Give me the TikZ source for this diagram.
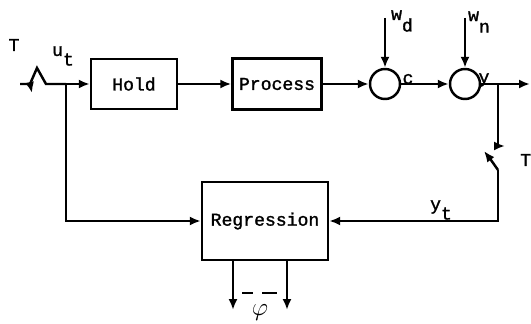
\documentclass[tikz,border=0pt]{standalone}
\usepackage{fontspec}
\setmainfont{Liberation Mono}[FakeBold=1.5,AutoFakeBold=1.5]
\usetikzlibrary{arrows.meta}

\begin{document}
\begin{tikzpicture}[x=0.02cm,y=-0.02cm,line width=1.4pt,
  >={Latex[length=2.2mm,width=1.8mm]},
  blockbox/.style={draw,rectangle,inner sep=0pt,font=\fontsize{10.3}{12}\selectfont\bfseries},
  sumnode/.style={draw,circle,minimum size=0.6cm,inner sep=0pt},
  lbl/.style={inner sep=0pt,font=\fontsize{10.3}{12}\selectfont\bfseries}]

\useasboundingbox (0,0) rectangle (531,324);

% Blocs
\node[blockbox,minimum width=1.72cm,minimum height=1cm] (hold) at (134,84) {Hold};
\node[blockbox,minimum width=1.78cm,minimum height=1.02cm] (process) at (277,84) {Process};
\node[sumnode] (c) at (385,84) {};
\node[sumnode] (y) at (465,84) {};
\node[blockbox,minimum width=2.52cm,minimum height=1.56cm] (regression) at (265,221) {Regression};

% Points
\coordinate (tin) at (20,84);
\coordinate (sw1a) at (30,84);
\coordinate (sw1p) at (37,68);
\coordinate (sw1b) at (46,84);
\coordinate (ut) at (66,84);
\coordinate (yout) at (530,84);
\coordinate (ybr) at (498,84);
\coordinate (sw2a) at (498,146);
\coordinate (sw2b) at (498,170);
\coordinate (sw2p) at (484,151);
\coordinate (wd) at (385,18);
\coordinate (wn) at (465,18);
\coordinate (phia) at (233,310);
\coordinate (phib) at (287,310);

% Echantillonneur d'entree
\draw (tin) -- (sw1a) -- (sw1p) -- (sw1b) -- (ut);
\draw[->] (sw1a) -- ++(2,9);

% Chaine directe
\draw[->] (ut) -- (hold);
\draw[->] (hold) -- (process);
\draw[->] (process) -- (c);
\draw[->] (c) -- (y);
\draw[->] (y) -- (yout);
\draw[->] (wd) -- (c);
\draw[->] (wn) -- (y);

% Echantillonneur de sortie
\draw (ybr) -- (sw2a);
\draw[->] (sw2a) -- ++(7,0);
\draw[->] (sw2b) .. controls (491,160) .. (sw2p);

% Retours vers la regression
\draw[->] (sw2b) |- (regression);
\draw[->] (ut) |- (regression);

% Sorties
\draw[->] (regression.south -| phia) -- (phia);
\draw[->] (regression.south -| phib) -- (phib);
\draw (242,293) -- (253,293);
\draw (262,293) -- (277,293);

% Etiquettes
\node[lbl] (tleft) at (14,45) {T};
\node[lbl] (ulab) at (63,56) {u\raisebox{-1ex}{t}};
\node[lbl] (wdlab) at (402,21) {w\raisebox{-1.2ex}{d}};
\node[lbl] (wnlab) at (479,22) {w\raisebox{-1.2ex}{n}};
\node[lbl] (clab) at (408,79) {c};
\node[lbl] (ylab) at (484,80) {y};
\node[lbl,anchor=west] (tright) at (519,160) {T};
\node[lbl] (ytlab) at (441,210) {y\raisebox{-1ex}{t}};
\node[lbl,font=\fontsize{14}{16}\selectfont] (philab) at (260,313) {$\varphi$};

\end{tikzpicture}
\end{document}
